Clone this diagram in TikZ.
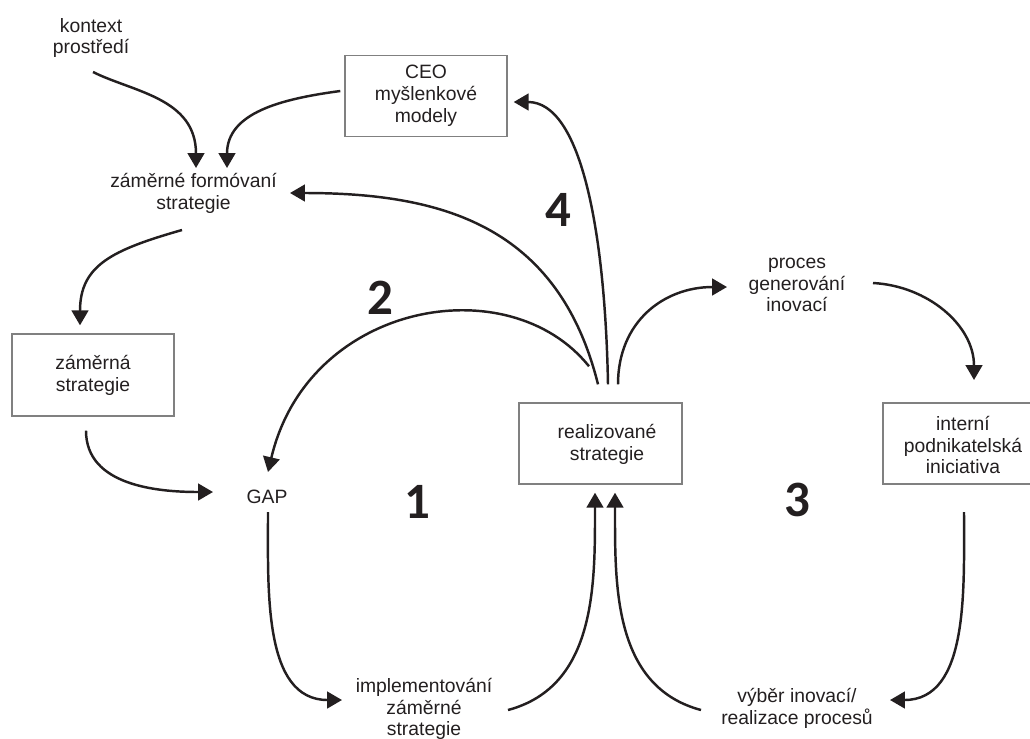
\documentclass[tikz,border=0pt]{standalone}
\usepackage{fontspec}
\setmainfont{Liberation Sans}
\newfontfamily\numfont{Carlito}
\usetikzlibrary{arrows.meta,calc}
\definecolor{ink}{HTML}{231F20}
\definecolor{frame}{HTML}{808080}
\begin{document}
\begin{tikzpicture}[x=0.02cm,y=0.02cm,
  lbl/.style={align=center,inner sep=0pt,text=ink,font=\fontsize{11}{12.4}\selectfont},
  frbox/.style={draw=frame,line width=0.8pt,inner sep=0pt,align=center,text=ink,
    font=\fontsize{11}{12.4}\selectfont,minimum height=1.62cm},
  num/.style={inner sep=0pt,text=ink,font=\numfont\bfseries\fontsize{29}{30}\selectfont},
  flow/.style={draw=ink,line width=1.4pt,-{Triangle[length=8.5pt,width=9.5pt]}}
]
\useasboundingbox (0,0) rectangle (1030,-738);

% plain labels
\node[lbl] (kontext) at (91,-38) {kontext\\prostředí};
\node[lbl] (formov) at (193.5,-193.5) {záměrné formóvaní\\strategie};
\node[lbl] (gap) at (267,-497) {GAP};
\node[lbl] (impl) at (424,-709) {implementování\\záměrné\\strategie};
\node[lbl] (proces) at (797,-285) {proces\\generování\\inovací};
\node[lbl] (vyber) at (797,-708) {výběr inovací/\\realizace procesů};

% framed boxes
\node[frbox,minimum width=3.24cm] (ceo) at (426,-96) {CEO\\myšlenkové\\modely};
\node[frbox,minimum width=3.24cm,minimum height=1.64cm] (zamerna) at (93,-375) {záměrná\\strategie};
\node[frbox,minimum width=3.26cm] (real) at (600.5,-443.5) {};
\node[lbl] (realtxt) at (607,-444.5) {realizované\\strategie};
% this box runs past the right border of the page
\node[frbox,minimum width=3.6cm] (interni) at (973,-443.5) {};
\node[lbl] (internitxt) at (963,-445) {interní\\podnikatelská\\iniciativa};

% loop numbers
\node[num] (n4) at (558,-210) {4};
\node[num] (n2) at (380,-298) {2};
\node[num] (n1) at (417,-502) {1};
\node[num] (n3) at (797,-500) {3};

% connectors
\draw[flow] ($(kontext)+(2,-34)$) .. controls +(40,-20) and +(0,70) .. ($(formov)+(2.5,25.5)$);
\draw[flow] ($(ceo.west)+(-4,5)$) .. controls +(-60,-8) and +(0,55) .. ($(formov)+(33.5,25.5)$);
\draw[flow] ($(formov)+(-11.5,-36.5)$) .. controls +(-70,-20) and +(0,60) .. ($(zamerna.north)+(-13,8)$);
\draw[flow] ($(zamerna.south)+(-7,-14)$) to[out=-90,in=180] ($(gap)+(-54,5)$);
\draw[flow] ($(gap)+(1,-15)$) to[out=-90,in=180] ($(impl)+(-82,9)$);
\draw[flow] ($(impl)+(84,-1)$) to[out=15,in=-90] ($(real.south)+(-5.5,-8)$);
\draw[flow] ($(vyber)+(-96,-2)$) to[out=165,in=-90] ($(real.south)+(14.5,-8)$);
\draw[flow] ($(internitxt)+(1,-67)$) to[out=-90,in=0] ($(vyber)+(93,8)$);
\draw[flow] ($(real.north)+(17.5,18)$) to[out=90,in=180,looseness=1.1] ($(proces)+(-70,-2)$);
\draw[flow] ($(proces)+(76,2)$) to[out=-3,in=90] ($(internitxt)+(11,65)$);
\draw[flow] ($(real.north)+(7.5,18)$) .. controls +(-3,155) and +(67,0) .. ($(ceo.east)+(6,-6)$);
\draw[flow] ($(real.north)+(-2.5,18)$) .. controls +(-40,160) and +(150,0) .. ($(formov)+(96.5,0.5)$);
\draw[flow] ($(real.north)+(-11.5,36)$) .. controls +(-80,100) and +(40,170) .. ($(gap)+(1,25)$);
\end{tikzpicture}
\end{document}
